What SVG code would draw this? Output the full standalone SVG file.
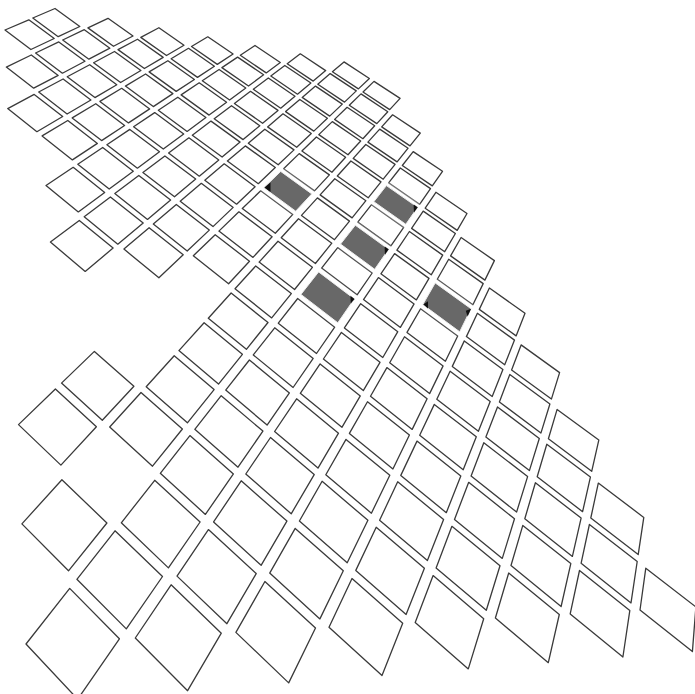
<svg xmlns="http://www.w3.org/2000/svg" width="695" height="694" viewBox="0 0 695 694">
<defs>
<filter id="glow" x="-40%" y="-40%" width="180%" height="180%"><feGaussianBlur stdDeviation="1.6"/></filter>
<style>
.t{fill:#fff;stroke:#3a3a3a;stroke-width:1.3;stroke-linejoin:round}
.h{fill:#fff;stroke:#fff;stroke-width:6;stroke-linejoin:round;filter:url(#glow);opacity:.9}
.d{fill:#686868;stroke:#efefef;stroke-width:1;stroke-linejoin:round}
.k{fill:#111}
</style>
</defs>
<rect width="695" height="694" fill="#fff"/>
<g id="tiles">
<polygon class="t" points="5,30 28.8,19.8 54.2,38.5 30.9,49.5"/>
<polygon class="t" points="32.8,18 55,8.5 79.8,26.5 58.2,36.7"/>
<polygon class="t" points="6.3,67.1 31.3,55 58.2,75.4 33.7,88.2"/>
<polygon class="t" points="35.6,53 58.8,41.9 85,61.2 62.4,73.2"/>
<polygon class="t" points="62.7,40 84.3,29.7 109.9,48.2 88.9,59.2"/>
<polygon class="t" points="87.9,27.9 108,18.3 133,36 113.5,46.3"/>
<polygon class="t" points="7.7,108.6 34.2,94.4 62.7,116.5 36.9,131.7"/>
<polygon class="t" points="38.7,92 63.1,79 90.9,100 67.1,114"/>
<polygon class="t" points="67.2,76.8 89.7,64.7 116.8,84.7 94.9,97.6"/>
<polygon class="t" points="93.6,62.7 114.5,51.5 140.9,70.5 120.6,82.5"/>
<polygon class="t" points="118,49.6 137.5,39.2 163.2,57.4 144.4,68.5"/>
<polygon class="t" points="140.8,37.4 158.9,27.7 184,45.2 166.5,55.5"/>
<polygon class="t" points="42.1,135.9 67.8,120.5 97.4,143.4 72.4,159.9"/>
<polygon class="t" points="72.2,117.9 95.8,103.7 124.6,125.5 101.6,140.6"/>
<polygon class="t" points="99.9,101.4 121.7,88.3 149.7,108.9 128.5,122.9"/>
<polygon class="t" points="125.4,86.1 145.6,74 172.9,93.6 153.3,106.6"/>
<polygon class="t" points="149.1,71.9 167.9,60.7 194.4,79.5 176.2,91.4"/>
<polygon class="t" points="171.1,58.8 188.5,48.3 214.4,66.3 197.5,77.4"/>
<polygon class="t" points="191.5,46.5 207.8,36.8 233.1,54 217.3,64.4"/>
<polygon class="t" points="46,185.5 73.2,167.3 104.7,192.4 78.3,211.9"/>
<polygon class="t" points="77.8,164.2 102.7,147.5 133.3,171.2 109.2,189.1"/>
<polygon class="t" points="106.9,144.7 129.8,129.4 159.5,151.8 137.4,168.2"/>
<polygon class="t" points="133.6,126.8 154.7,112.6 183.7,134 163.3,149.1"/>
<polygon class="t" points="158.3,110.2 177.8,97.2 205.9,117.5 187.1,131.4"/>
<polygon class="t" points="181.1,94.9 199.2,82.8 226.6,102.2 209.1,115.1"/>
<polygon class="t" points="202.3,80.8 219.1,69.5 245.8,88 229.6,100"/>
<polygon class="t" points="221.9,67.6 237.6,57.1 263.6,74.8 248.5,86"/>
<polygon class="t" points="240.3,55.3 255,45.5 280.3,62.5 266.2,72.9"/>
<polygon class="t" points="50.4,242.1 79.3,220.4 113.1,248.1 85.2,271.4"/>
<polygon class="t" points="84.2,216.7 110.4,196.9 143.2,223 117.8,244.2"/>
<polygon class="t" points="114.8,193.6 138.8,175.5 170.6,200.1 147.5,219.4"/>
<polygon class="t" points="142.9,172.4 164.9,155.9 195.7,179.1 174.5,196.8"/>
<polygon class="t" points="168.6,153.1 188.9,137.8 218.8,159.9 199.3,176.2"/>
<polygon class="t" points="192.3,135.2 211,121.1 240.1,142.1 222.1,157.1"/>
<polygon class="t" points="214.2,118.7 231.5,105.7 259.8,125.7 243.1,139.6"/>
<polygon class="t" points="234.4,103.5 250.5,91.3 278,110.4 262.6,123.3"/>
<polygon class="t" points="253.3,89.3 268.3,78 295,96.2 280.7,108.2"/>
<polygon class="t" points="270.8,76 284.8,65.5 310.9,83 297.5,94.2"/>
<polygon class="t" points="287.2,63.7 300.3,53.8 325.7,70.6 313.2,81.1"/>
<polygon class="t" points="123.9,249.1 149.1,227.7 183.2,254.8 158.9,277.8"/>
<polygon class="t" points="153.3,224.1 176.3,204.5 209.3,230.1 187.2,251"/>
<polygon class="t" points="180.2,201.2 201.3,183.3 233.2,207.4 213,226.6"/>
<polygon class="t" points="204.8,180.3 224.2,163.8 255.1,186.7 236.6,204.2"/>
<polygon class="t" points="227.4,161 245.3,145.9 275.3,167.5 258.3,183.7"/>
<polygon class="t" points="248.3,143.3 264.8,129.2 294,149.9 278.2,164.8"/>
<polygon class="t" points="267.6,126.9 283,113.8 311.3,133.5 296.7,147.3"/>
<polygon class="t" points="285.6,111.6 299.8,99.5 327.4,118.3 313.8,131.1"/>
<polygon class="t" points="302.2,97.4 315.5,86.1 342.3,104.1 329.7,116.1"/>
<polygon class="t" points="317.8,84.2 330.2,73.6 356.3,90.9 344.5,102.1"/>
<polygon class="t" points="332.4,71.8 344,61.9 369.4,78.5 358.4,88.9"/>
<polygon class="t" points="18.5,424.6 55.4,389 96.4,426.7 60.9,465.1"/>
<polygon class="t" points="61.5,383.1 94.4,351.4 133.9,386.2 102.3,420.3"/>
<polygon class="t" points="193.3,255.8 215.2,234.7 249.5,261.2 228.6,283.8"/>
<polygon class="t" points="218.9,231.1 238.9,211.8 272.1,236.8 253,257.4"/>
<polygon class="t" points="242.3,208.5 260.7,190.8 292.8,214.4 275.3,233.3"/>
<polygon class="t" points="283.6,168.7 299.2,153.6 329.4,174.9 314.5,190.9"/>
<polygon class="t" points="301.9,151 316.4,137 345.6,157.3 331.9,172.2"/>
<polygon class="t" points="318.8,134.6 332.3,121.6 360.7,141 348,154.8"/>
<polygon class="t" points="334.6,119.4 347.1,107.3 374.7,125.8 362.9,138.7"/>
<polygon class="t" points="349.3,105.3 361,93.9 387.8,111.7 376.8,123.6"/>
<polygon class="t" points="363,92 374,81.4 400.1,98.4 389.7,109.6"/>
<polygon class="t" points="21.9,523.9 61.9,479.7 106.9,523 68.5,570.8"/>
<polygon class="t" points="109.7,427 141,392.5 182.4,429 152.5,466.2"/>
<polygon class="t" points="146.2,386.7 174.2,355.8 214.1,389.6 187.4,422.8"/>
<polygon class="t" points="178.9,350.6 204.1,322.8 242.4,354.3 218.5,384.1"/>
<polygon class="t" points="208.3,318.2 231.1,293 268,322.5 246.4,349.3"/>
<polygon class="t" points="235,288.8 255.7,266 291.3,293.6 271.7,317.9"/>
<polygon class="t" points="259.1,262.1 278,241.3 312.4,267.3 294.6,289.5"/>
<polygon class="t" points="281.2,237.8 298.5,218.7 331.8,243.2 315.4,263.5"/>
<polygon class="t" points="301.5,215.4 317.4,197.9 349.5,221.1 334.5,239.7"/>
<polygon class="t" points="320.1,194.9 334.8,178.7 365.9,200.7 352.1,217.9"/>
<polygon class="t" points="337.3,176 350.9,161 381,181.9 368.2,197.8"/>
<polygon class="t" points="353.2,158.4 365.8,144.5 395.1,164.4 383.2,179.2"/>
<polygon class="t" points="367.9,142.1 379.7,129.1 408.1,148.2 397.1,161.9"/>
<polygon class="t" points="381.7,126.9 392.6,114.8 420.3,133.1 410,145.9"/>
<polygon class="t" points="26,644 69.7,588.4 119.4,638.8 77.7,699.2"/>
<polygon class="t" points="76.9,579.3 115,530.8 162.5,576.5 126.3,628.9"/>
<polygon class="t" points="121.3,522.8 154.7,480.3 200.1,522 168.4,567.9"/>
<polygon class="t" points="160.3,473.3 189.9,435.6 233.4,473.9 205.4,514.4"/>
<polygon class="t" points="194.8,429.3 221.2,395.7 262.9,431.1 238,467.2"/>
<polygon class="t" points="225.7,390.1 249.4,360 289.4,392.9 267.1,425.1"/>
<polygon class="t" points="253.3,354.9 274.7,327.8 313.2,358.4 293.1,387.5"/>
<polygon class="t" points="278.3,323.2 297.7,298.5 334.7,327.2 316.5,353.5"/>
<polygon class="t" points="321.6,268.1 337.7,247.6 372.2,273 357.1,294.8"/>
<polygon class="t" points="357.8,222.1 371.5,204.7 403.7,227.4 390.9,245.9"/>
<polygon class="t" points="388.6,182.9 400.3,168 430.5,188.6 419.6,204.4"/>
<polygon class="t" points="402.3,165.5 413.2,151.6 442.5,171.3 432.3,185.9"/>
<polygon class="t" points="135.3,638 171.1,584.8 221.3,633.2 187.6,690.7"/>
<polygon class="t" points="177,576.1 208.4,529.6 256.2,573.6 226.9,623.7"/>
<polygon class="t" points="213.6,521.9 241.2,480.8 286.9,521.1 261.1,565.3"/>
<polygon class="t" points="245.8,474 270.5,437.5 314.2,474.6 291.2,513.8"/>
<polygon class="t" points="274.6,431.5 296.6,398.8 338.5,433.2 318,468.1"/>
<polygon class="t" points="300.3,393.3 320.1,363.9 360.3,395.9 341.9,427.3"/>
<polygon class="t" points="323.4,359 341.4,332.4 380,362.3 363.3,390.6"/>
<polygon class="t" points="344.4,327.9 360.7,303.7 397.8,331.7 382.8,357.5"/>
<polygon class="t" points="363.5,299.6 378.4,277.6 414.1,303.9 400.4,327.4"/>
<polygon class="t" points="380.9,273.8 394.6,253.6 429,278.4 416.4,299.9"/>
<polygon class="t" points="396.9,250.1 409.4,231.5 442.7,255.1 431.2,274.8"/>
<polygon class="t" points="411.6,228.4 423.2,211.1 455.4,233.5 444.7,251.7"/>
<polygon class="t" points="425.2,208.2 435.9,192.3 467,213.5 457.2,230.4"/>
<polygon class="t" points="235.9,632.4 264.9,581.5 315.5,628 288.7,682.9"/>
<polygon class="t" points="269.7,573.1 295.2,528.4 343.3,570.8 319.9,618.9"/>
<polygon class="t" points="299.4,521 322.1,481.3 367.9,520.3 347.2,562.8"/>
<polygon class="t" points="325.8,474.7 346,439.4 389.8,475.3 371.4,513.2"/>
<polygon class="t" points="349.4,433.4 367.5,401.7 409.4,435 392.9,469"/>
<polygon class="t" points="370.5,396.3 386.9,367.6 427.1,398.8 412.2,429.4"/>
<polygon class="t" points="389.7,362.8 404.5,336.8 443.1,365.9 429.6,393.6"/>
<polygon class="t" points="407,332.4 420.6,308.7 457.7,336 445.4,361.2"/>
<polygon class="t" points="437.3,279.2 448.7,259.3 483.2,283.6 472.9,304.8"/>
<polygon class="t" points="450.6,255.9 461.1,237.5 494.4,260.6 484.9,280.1"/>
<polygon class="t" points="329,627.2 352,578.5 402.7,623.2 382,675.6"/>
<polygon class="t" points="355.8,570.4 376.2,527.3 424.4,568.2 406.1,614.5"/>
<polygon class="t" points="379.6,520.2 397.7,481.8 443.6,519.5 427.4,560.6"/>
<polygon class="t" points="400.8,475.4 417,441.1 460.8,476 446.3,512.7"/>
<polygon class="t" points="419.7,435.3 434.3,404.4 476.3,436.8 463.2,469.8"/>
<polygon class="t" points="436.8,399.2 450.1,371.2 490.2,401.5 478.4,431.3"/>
<polygon class="t" points="452.3,366.4 464.3,340.9 502.9,369.4 492.2,396.5"/>
<polygon class="t" points="466.4,336.6 477.4,313.3 514.5,340.1 504.7,364.8"/>
<polygon class="t" points="479.3,309.4 489.4,288 525,313.3 516.1,335.9"/>
<polygon class="t" points="415.2,622.5 433.1,575.6 483.7,618.7 468.3,668.9"/>
<polygon class="t" points="436.1,567.9 451.9,526.3 500,565.8 486.3,610.3"/>
<polygon class="t" points="454.5,519.4 468.7,482.3 514.5,518.8 502.3,558.4"/>
<polygon class="t" points="471.1,476.1 483.8,442.7 527.6,476.6 516.6,512.1"/>
<polygon class="t" points="485.9,437.1 497.5,406.9 539.3,438.5 529.4,470.6"/>
<polygon class="t" points="499.4,401.9 509.8,374.5 549.9,404 540.9,433.1"/>
<polygon class="t" points="511.6,369.9 521.1,344.9 559.6,372.6 551.4,399.1"/>
<polygon class="t" points="495.4,618 508.7,573 559.3,614.5 548.3,662.7"/>
<polygon class="t" points="511,565.5 522.8,525.4 570.8,563.6 561.1,606.5"/>
<polygon class="t" points="524.8,518.7 535.4,482.7 581.1,518.1 572.4,556.4"/>
<polygon class="t" points="537.2,476.7 546.8,444.2 590.4,477.1 582.6,511.7"/>
<polygon class="t" points="548.4,438.8 557.1,409.4 598.8,440.1 591.7,471.3"/>
<polygon class="t" points="570.2,613.9 579.5,570.5 629.8,610.6 622.9,657"/>
<polygon class="t" points="581.1,563.3 589.4,524.5 637.2,561.5 631,602.9"/>
<polygon class="t" points="590.8,518 598.3,483.1 643.8,517.4 638.2,554.6"/>
<polygon class="t" points="640,610 645.8,568.2 695.9,606.9 692.4,651.6"/>
</g>
<g id="halos">
<polygon class="h" points="263.8,187.8 280.7,171.4 311.8,193.9 295.7,211.2"/>
<polygon class="h" points="300.9,294.4 318.6,271.9 354.3,298.9 337.8,322.8"/>
<polygon class="h" points="340.5,244.1 355.3,225.2 388.6,249.3 374.7,269.3"/>
<polygon class="h" points="373.8,201.7 386.4,185.6 417.6,207.3 405.8,224.3"/>
<polygon class="h" points="422.8,304.6 435.2,282.9 471,308.7 459.7,331.8"/>
</g>
<g id="raised">
<g id="r1_7"><polygon class="d" points="263.8,187.8 280.7,171.4 311.8,193.9 295.7,211.2"/><polygon class="k" points="264.5,187.6 270.5,182.6 270.5,192"/></g>
<g id="rm1_9"><polygon class="d" points="300.9,294.4 318.6,271.9 354.3,298.9 337.8,322.8"/><polygon class="k" points="354.6,298.9 350.4,295.8 350.8,303.6"/></g>
<g id="r1_9"><polygon class="d" points="340.5,244.1 355.3,225.2 388.6,249.3 374.7,269.3"/><polygon class="k" points="388.8,249.3 384.6,246.4 385,254.8"/></g>
<g id="r3_9"><polygon class="d" points="373.8,201.7 386.4,185.6 417.6,207.3 405.8,224.3"/><polygon class="k" points="417.8,207.3 413.6,204.4 414,212.6"/></g>
<g id="r1_11"><polygon class="d" points="422.8,304.6 435.2,282.9 471,308.7 459.7,331.8"/><polygon class="k" points="423.4,304.4 428,301.2 428,308.6"/><polygon class="k" points="471.2,308.8 467.6,316.4 465.8,310.8"/></g>
</g>
</svg>
